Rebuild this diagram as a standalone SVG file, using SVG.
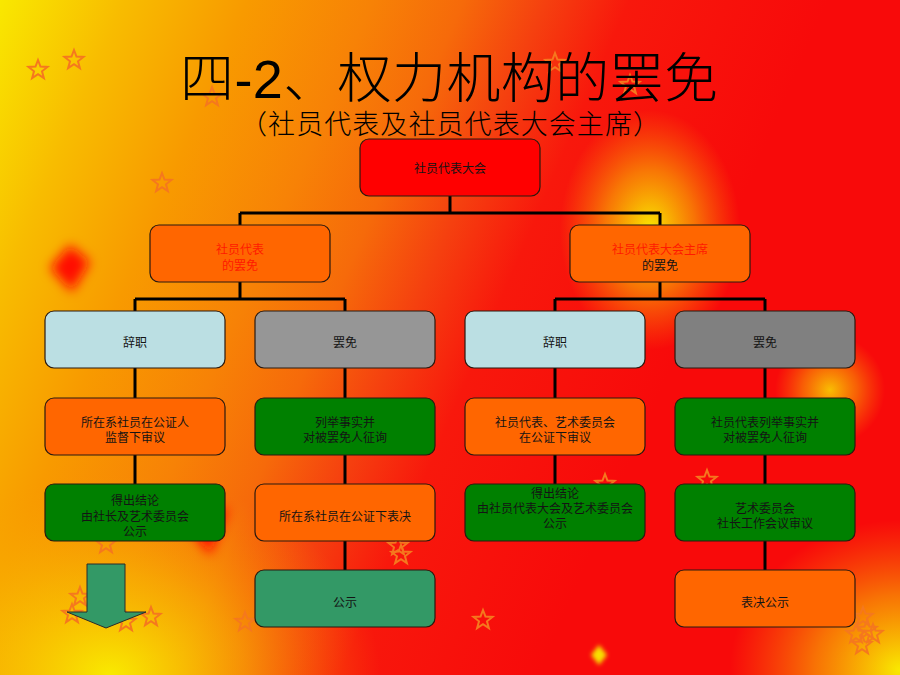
<svg xmlns="http://www.w3.org/2000/svg" xmlns:xlink="http://www.w3.org/1999/xlink" width="900" height="675" viewBox="0 0 900 675">
<defs>
<style>
.box{stroke:#2a1a10;stroke-width:1.2}
.t{font-family:"Noto Sans CJK SC",sans-serif;font-size:12px;text-anchor:middle;fill:#141414}
.red{fill:#ff1a00}
.conn{stroke:#000;stroke-width:3;fill:none}
.star{fill:none;stroke:#f5781e;stroke-width:2;stroke-linejoin:miter}
.orange{fill:#ff6600}.green{fill:#008000}.lblue{fill:#bbdfe3}.teal{fill:#339966}
</style>
<linearGradient id="bg" gradientUnits="userSpaceOnUse" x1="0" y1="0" x2="700" y2="300">
<stop offset="0" stop-color="#f9e800"/>
<stop offset="0.15" stop-color="#f8bc00"/>
<stop offset="0.3" stop-color="#f89a00"/>
<stop offset="0.45" stop-color="#f78206"/>
<stop offset="0.56" stop-color="#f66a0a"/>
<stop offset="0.66" stop-color="#f5400f"/>
<stop offset="0.76" stop-color="#f8180c"/>
<stop offset="1" stop-color="#f80a0a"/>
</linearGradient>
<radialGradient id="gY" cx="0.5" cy="0.5" r="0.5">
<stop offset="0" stop-color="#f9ea00" stop-opacity="1"/>
<stop offset="0.5" stop-color="#f8c800" stop-opacity="0.55"/>
<stop offset="1" stop-color="#f8a000" stop-opacity="0"/>
</radialGradient>
<filter id="blur" x="-50%" y="-50%" width="200%" height="200%"><feGaussianBlur stdDeviation="6"/></filter>
<filter id="blur2" x="-50%" y="-50%" width="200%" height="200%"><feGaussianBlur stdDeviation="2"/></filter>
<polygon id="st" points="0,-10 2.47,-3.4 9.51,-3.09 3.99,1.3 5.88,8.09 0,4.2 -5.88,8.09 -3.99,1.3 -9.51,-3.09 -2.47,-3.4"/>
</defs>

<g id="background">
<rect x="0" y="0" width="900" height="675" fill="url(#bg)"/>
<ellipse cx="110" cy="675" rx="270" ry="200" fill="url(#gY)"/>
<ellipse cx="650" cy="230" rx="90" ry="120" fill="url(#gY)"/>
<ellipse cx="830" cy="390" rx="55" ry="55" fill="url(#gY)" opacity="0.8"/>
<ellipse cx="900" cy="670" rx="170" ry="150" fill="url(#gY)"/>
<polygon points="70,245 90,262 72,292 50,268" fill="#ff1000" filter="url(#blur)"/>
<polygon points="180,515 228,508 210,555" fill="#ff1000" filter="url(#blur)"/>
<polygon points="599,645 607,655 599,665 591,655" fill="#f8e000" filter="url(#blur2)"/>
</g>

<g id="stars">
<use xlink:href="#st" class="star" x="38" y="70"/>
<use xlink:href="#st" class="star" x="74" y="60"/>
<use xlink:href="#st" class="star" x="162" y="183"/>
<use xlink:href="#st" class="star" x="212" y="97"/>
<use xlink:href="#st" class="star" x="555" y="63"/>
<use xlink:href="#st" class="star" x="630" y="85"/>
<use xlink:href="#st" class="star" x="106" y="544"/>
<use xlink:href="#st" class="star" x="80" y="597"/>
<use xlink:href="#st" class="star" x="72" y="614"/>
<use xlink:href="#st" class="star" x="126" y="622"/>
<use xlink:href="#st" class="star" x="151" y="617"/>
<use xlink:href="#st" class="star" x="245" y="622"/>
<use xlink:href="#st" class="star" x="398" y="546"/>
<use xlink:href="#st" class="star" x="401" y="555"/>
<use xlink:href="#st" class="star" x="483" y="620"/>
<use xlink:href="#st" class="star" x="605" y="484"/>
<use xlink:href="#st" class="star" x="707" y="480"/>
<use xlink:href="#st" class="star" x="863" y="617"/>
<use xlink:href="#st" class="star" x="867" y="630"/>
<use xlink:href="#st" class="star" x="873" y="634"/>
<use xlink:href="#st" class="star" x="862" y="645"/>
<use xlink:href="#st" class="star" x="856" y="634"/>
</g>

<g id="title">
<text x="180" y="98" font-family="Liberation Sans,'Noto Sans CJK SC',sans-serif" font-size="54" font-weight="300" textLength="538" lengthAdjust="spacing" fill="#000">四-2、权力机构的罢免</text>
<text x="240" y="134" font-family="'Noto Sans CJK SC',sans-serif" font-size="27" font-weight="300" textLength="420" lengthAdjust="spacing" fill="#000">（社员代表及社员代表大会主席）</text>
</g>

<g id="connectors">
<path class="conn" d="M450,196V213M240,213H660M240,213V225M660,213V225"/>
<path class="conn" d="M240,282V299M135,299H345M135,299V311M345,299V311"/>
<path class="conn" d="M660,282V299M555,299H765M555,299V311M765,299V311"/>
<path class="conn" d="M135,368V398M135,455V484"/>
<path class="conn" d="M345,368V398M345,455V484M345,541V570"/>
<path class="conn" d="M555,368V398M555,455V484"/>
<path class="conn" d="M765,368V398M765,455V484M765,541V570"/>
</g>

<g id="n_top"><rect class="box" x="360" y="139" width="180" height="57" rx="9" fill="#ff0000"/><text class="t" x="450" y="172.5">社员代表大会</text></g>

<g id="n_rep"><rect class="box orange" x="150" y="225" width="180" height="57" rx="9"/><text class="t red" x="240" y="253.5">社员代表</text><text class="t red" x="240" y="269.5">的罢免</text></g>
<g id="n_chair"><rect class="box orange" x="570" y="225" width="180" height="57" rx="9"/><text class="t red" x="660" y="253.5">社员代表大会主席</text><text class="t" x="660" y="269.5">的罢免</text></g>

<g id="n_l_resign"><rect class="box lblue" x="45" y="311" width="180" height="57" rx="9"/><text class="t" x="135" y="347">辞职</text></g>
<g id="n_l_dismiss"><rect class="box" x="255" y="311" width="180" height="57" rx="9" fill="#969696"/><text class="t" x="345" y="347">罢免</text></g>
<g id="n_r_resign"><rect class="box lblue" x="465" y="311" width="180" height="57" rx="9"/><text class="t" x="555" y="347">辞职</text></g>
<g id="n_r_dismiss"><rect class="box" x="675" y="311" width="180" height="57" rx="9" fill="#808080"/><text class="t" x="765" y="347">罢免</text></g>

<g id="n_l1"><rect class="box orange" x="45" y="398" width="180" height="57" rx="9"/><text class="t" x="135" y="426.5">所在系社员在公证人</text><text class="t" x="135" y="441.5">监督下审议</text></g>
<g id="n_l2"><rect class="box green" x="255" y="398" width="180" height="57" rx="9"/><text class="t" x="345" y="426.5">列举事实并</text><text class="t" x="345" y="441.5">对被罢免人征询</text></g>
<g id="n_r1"><rect class="box orange" x="465" y="398" width="180" height="57" rx="9"/><text class="t" x="555" y="426.5">社员代表、艺术委员会</text><text class="t" x="555" y="441.5">在公证下审议</text></g>
<g id="n_r2"><rect class="box green" x="675" y="398" width="180" height="57" rx="9"/><text class="t" x="765" y="426.5">社员代表列举事实并</text><text class="t" x="765" y="441.5">对被罢免人征询</text></g>

<g id="n_l3"><rect class="box green" x="45" y="484" width="180" height="57" rx="9"/><text class="t" x="135" y="504.5">得出结论</text><text class="t" x="135" y="520.5">由社长及艺术委员会</text><text class="t" x="135" y="535.5">公示</text></g>
<g id="n_l4"><rect class="box orange" x="255" y="484" width="180" height="57" rx="9"/><text class="t" x="345" y="520.5">所在系社员在公证下表决</text></g>
<g id="n_r3"><rect class="box green" x="465" y="484" width="180" height="57" rx="9"/><text class="t" x="555" y="497.5">得出结论</text><text class="t" x="555" y="512.5">由社员代表大会及艺术委员会</text><text class="t" x="555" y="527.5">公示</text></g>
<g id="n_r4"><rect class="box green" x="675" y="484" width="180" height="57" rx="9"/><text class="t" x="765" y="512.5">艺术委员会</text><text class="t" x="765" y="527.5">社长工作会议审议</text></g>

<g id="n_l5"><rect class="box teal" x="255" y="570" width="180" height="57" rx="9"/><text class="t" x="345" y="606.5">公示</text></g>
<g id="n_r5"><rect class="box orange" x="675" y="570" width="180" height="57" rx="9"/><text class="t" x="765" y="606.5">表决公示</text></g>

<g id="arrow"><polygon points="87,564 125,564 125,612 146,612 106,628 67,612 87,612" fill="#339966" stroke="#2a2a2a" stroke-width="1"/></g>
</svg>
